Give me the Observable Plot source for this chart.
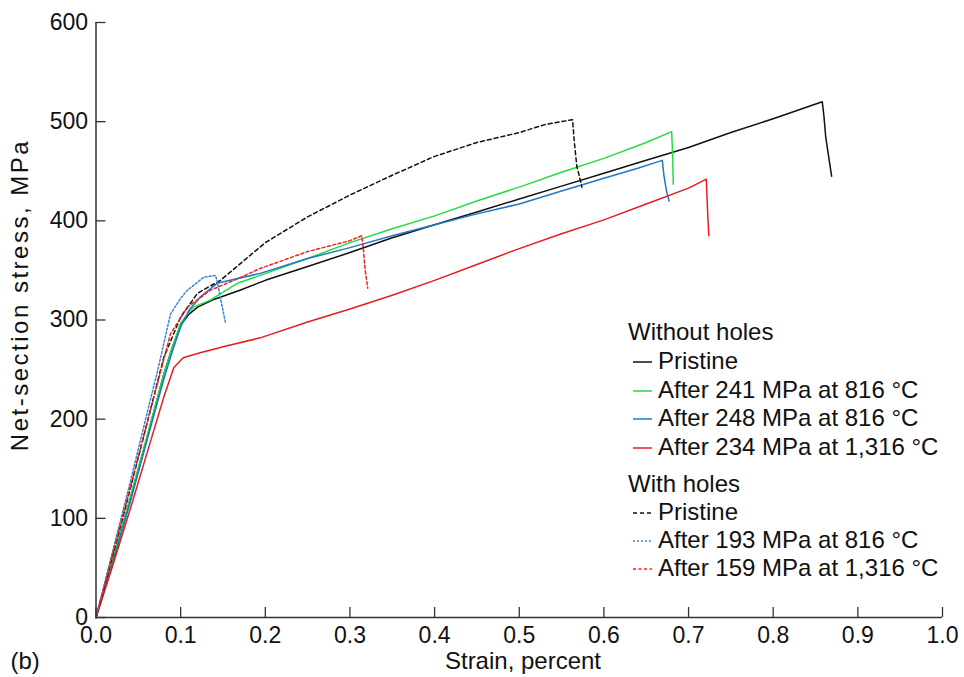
<!DOCTYPE html>
<html>
<head>
<meta charset="utf-8">
<script src="https://cdn.jsdelivr.net/npm/d3@7"></script>
<script src="https://cdn.jsdelivr.net/npm/@observablehq/plot@0.6"></script>
<style>
  html, body { margin: 0; padding: 0; background: #fff; }
  #wrap { position: relative; width: 964px; height: 677px; font-family: "Liberation Sans", Arial, Helvetica, sans-serif; }
  .lg { position: absolute; font-size: 24px; line-height: 28px; height: 28px; white-space: nowrap; color: #111; }
  .lg svg { position: absolute; }
</style>
</head>
<body>
<div id="wrap"></div>
<script>
// ---- Data (strain in percent, net-section stress in MPa) ----
const xTicks = [0, 0.1, 0.2, 0.3, 0.4, 0.5, 0.6, 0.7, 0.8, 0.9, 1.0];
const yTicks = [0, 100, 200, 300, 400, 500, 600];

const pristineNoHoles = [[0,0],[0.02,58],[0.04,118],[0.06,180],[0.08,245],[0.09,272],[0.1,295],[0.11,306],[0.12,313],[0.14,321],[0.17,330],[0.2,340],[0.25,354],[0.3,368],[0.35,383],[0.4,396],[0.45,409],[0.5,422],[0.55,435],[0.6,448],[0.65,461],[0.7,474],[0.75,489],[0.8,503],[0.858,520],[0.86,505],[0.862,485],[0.866,462],[0.869,445]];
const after241 = [[0,0],[0.02,60],[0.04,120],[0.06,182],[0.08,245],[0.09,272],[0.1,297],[0.115,313],[0.135,320],[0.167,337],[0.194,345],[0.25,362],[0.3,378],[0.35,392],[0.4,405],[0.45,420],[0.5,434],[0.55,449],[0.6,463],[0.65,479],[0.68,490],[0.681,470],[0.682,437]];
const after248 = [[0,0],[0.02,55],[0.04,115],[0.06,178],[0.08,240],[0.09,268],[0.1,293],[0.11,310],[0.123,323],[0.143,337],[0.194,347],[0.25,362],[0.3,373],[0.35,385],[0.4,396],[0.45,407],[0.5,417],[0.55,430],[0.6,443],[0.64,453],[0.669,461],[0.671,445],[0.674,430],[0.677,420]];
const after234 = [[0,0],[0.02,53],[0.04,108],[0.06,165],[0.08,222],[0.092,252],[0.103,262],[0.123,267],[0.155,274],[0.194,282],[0.25,298],[0.3,311],[0.35,325],[0.4,340],[0.45,356],[0.5,372],[0.55,387],[0.6,401],[0.65,417],[0.7,433],[0.721,442],[0.722,420],[0.723,400],[0.724,385]];
const pristineHoles = [[0,0],[0.02,63],[0.04,128],[0.06,195],[0.08,262],[0.1,303],[0.12,327],[0.147,340],[0.186,368],[0.2,378],[0.25,404],[0.3,426],[0.35,446],[0.4,465],[0.45,479],[0.5,489],[0.53,497],[0.563,502],[0.565,480],[0.568,455],[0.571,445],[0.574,434]];
const after193 = [[0,0],[0.02,68],[0.04,135],[0.06,205],[0.072,246],[0.088,306],[0.1,322],[0.108,330],[0.127,343],[0.141,345],[0.143,340],[0.148,318],[0.153,297]];
const after159 = [[0,0],[0.02,65],[0.04,130],[0.06,195],[0.088,286],[0.108,313],[0.135,330],[0.163,340],[0.194,352],[0.25,369],[0.3,380],[0.314,385],[0.316,370],[0.318,350],[0.321,332]];

const seriesNames = ["Pristine", "After 241 MPa at 816 °C", "After 248 MPa at 816 °C", "After 234 MPa at 1,316 °C", "Pristine", "After 193 MPa at 816 °C", "After 159 MPa at 1,316 °C"];
const seriesData = [pristineNoHoles, after241, after248, after234, pristineHoles, after193, after159];
const seriesColors = ["#111111", "#22dd44", "#1f78c8", "#e81c1c", "#111111", "#3a86d6", "#ee2222"];
const seriesDash = [null, null, null, null, "4,3", "2,2", "3,2.5"];
const groupTitles = ["Without holes", "With holes"];

// ---- Layout ----
const W = 964, H = 677;
const mL = 95.5, mR = 22, mT = 22, mB = 60;
const plotW = W - mL - mR, plotH = H - mT - mB;
const FONT = '"Liberation Sans", Arial, Helvetica, sans-serif';

const lineMarks = seriesData.map((d, i) => Plot.line(d, {
  x: p => p[0], y: p => p[1],
  stroke: seriesColors[i], strokeWidth: 1.5,
  strokeDasharray: seriesDash[i] ?? undefined,
  curve: "linear"
}));

const chart = Plot.plot({
  width: W, height: H,
  marginLeft: mL, marginRight: mR, marginTop: mT, marginBottom: mB,
  style: { fontFamily: FONT, fontSize: "23px", color: "#111", background: "#fff" },
  x: { domain: [0, 1], ticks: xTicks },
  y: { domain: [0, 600], ticks: yTicks },
  marks: [
    Plot.axisX(xTicks, { tickSize: 0, tickPadding: 9, tickFormat: d3.format(".1f"), label: null, fontSize: 23 }),
    Plot.axisY(yTicks, { tickSize: 0, tickPadding: 8, tickFormat: d3.format("d"), label: null, fontSize: 23 }),
    Plot.ruleX(xTicks, { stroke: "#333", strokeWidth: 1.3, insetTop: plotH - 10 }),
    Plot.ruleY(yTicks, { stroke: "#333", strokeWidth: 1.3, insetRight: plotW - 10 }),
    ...lineMarks,
    Plot.ruleX([0], { stroke: "#333", strokeWidth: 1.5 }),
    Plot.ruleY([0], { stroke: "#333", strokeWidth: 1.5 }),
    Plot.text(["Strain, percent"], { frameAnchor: "bottom", textAnchor: "middle", lineAnchor: "middle", dx: 522.5 - (mL + plotW / 2), dy: 44, fontSize: 24, fill: "#111" }),
    Plot.text(["(b)"], { frameAnchor: "bottom-left", textAnchor: "start", lineAnchor: "middle", dx: 10 - mL, dy: 44, fontSize: 24, fill: "#111" }),
    Plot.text(["Net-section stress, MPa"], { frameAnchor: "left", textAnchor: "middle", lineAnchor: "middle", rotate: -90, dx: 20 - mL, dy: 294.5 - (mT + plotH / 2), fontSize: 24, fill: "#111" })
  ]
});

// stretch the y-axis label to match the reference length
d3.select(chart).selectAll("text").filter(function() { return this.textContent === "Net-section stress, MPa"; })
  .attr("letter-spacing", "2.5px");

const wrap = document.getElementById("wrap");
wrap.appendChild(chart);

// ---- Legend (inside plot area) ----
const rowCenters = [332, 361, 390, 418, 447, 484, 512, 540, 568];
let r = 0;
function addRow(text, x, yc, sample) {
  const div = document.createElement("div");
  div.className = "lg";
  div.style.left = x + "px";
  div.style.top = (yc - 14) + "px";
  div.textContent = text;
  wrap.appendChild(div);
  if (sample) {
    const s = d3.create("svg").attr("width", 22).attr("height", 6)
      .style("position", "absolute").style("left", (633 - 1) + "px").style("top", (yc - 3 + 1) + "px");
    s.append("line").attr("x1", 1).attr("x2", 20).attr("y1", 3).attr("y2", 3)
      .attr("stroke", sample.color).attr("stroke-width", 1.5)
      .attr("stroke-dasharray", sample.dash || null);
    wrap.appendChild(s.node());
  }
}
[0, 1].forEach(g => {
  addRow(groupTitles[g], 628, rowCenters[r++], null);
  for (let i = g * 4; i < (g === 0 ? 4 : 7); i++) {
    addRow(seriesNames[i], 658, rowCenters[r++], { color: seriesColors[i], dash: seriesDash[i] });
  }
});
</script>
</body>
</html>
